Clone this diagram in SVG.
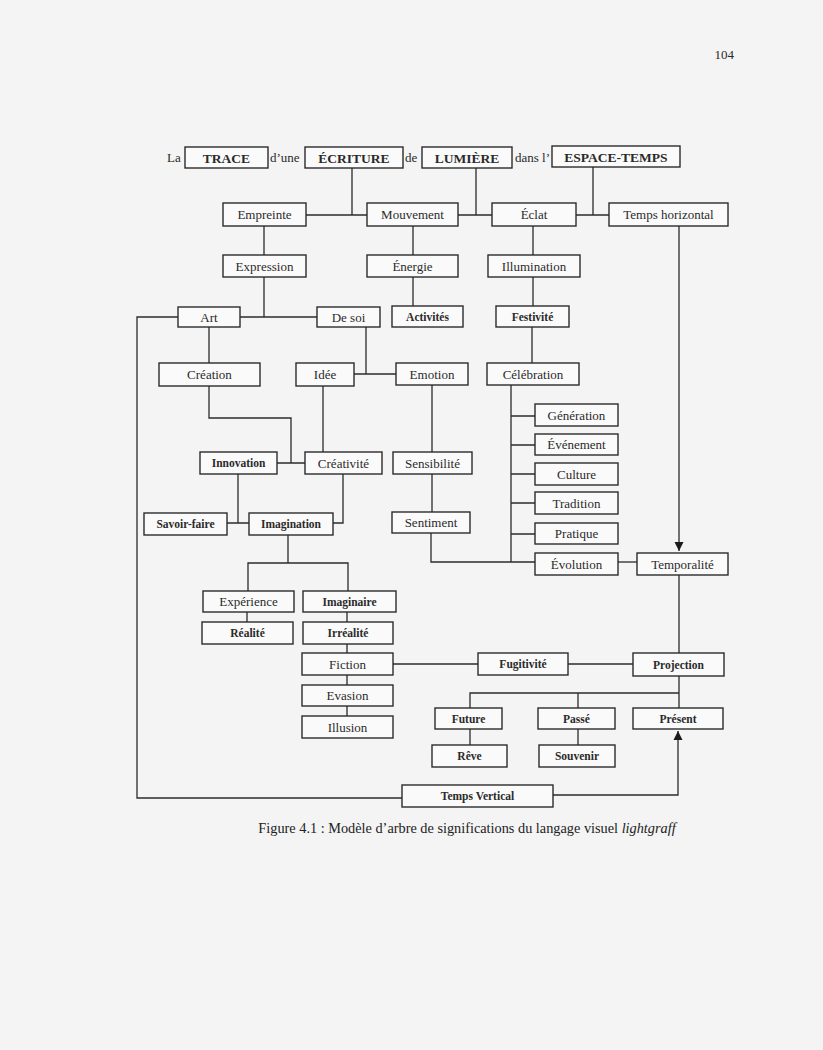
<svg xmlns="http://www.w3.org/2000/svg" width="823" height="1050" viewBox="0 0 823 1050">
<style>
.b{fill:#fafafa;stroke:#2b2b2b;stroke-width:1.4}
.t{font-family:"Liberation Serif","DejaVu Serif",serif;font-size:13px;fill:#2a2a2a;text-anchor:middle}
.s{font-size:11.5px;font-weight:bold}
.h{font-size:13.5px;font-weight:bold}
.w{font-family:"Liberation Serif","DejaVu Serif",serif;font-size:13px;fill:#2a2a2a}
.c{fill:none;stroke:#2b2b2b;stroke-width:1.3}
</style>
<defs>
<marker id="ar" viewBox="0 0 10 10" refX="10" refY="5" markerWidth="7" markerHeight="7" orient="auto"><path d="M0,0 L10,5 L0,10 z" fill="#1a1a1a"/></marker>
</defs>
<rect width="823" height="1050" fill="#f4f4f4"/>
<text x="734" y="59" class="w" style="text-anchor:end">104</text>
<text x="167" y="162" class="w">La</text>
<text x="270" y="162" class="w">d’une</text>
<text x="405" y="162" class="w">de</text>
<text x="515" y="162" class="w">dans l’</text>

<g id="connectors" class="c">
<path d="M352,168V215M306,215H367"/>
<path d="M476,168V215M458,215H492"/>
<path d="M593,167V215M576,215H609"/>
<path d="M264,226V255"/>
<path d="M413,226V255"/>
<path d="M533,226V255"/>
<path d="M679,226V551" marker-end="url(#ar)"/>
<path d="M264,277V317M240,317H317"/>
<path d="M178,317H137V798H402"/>
<path d="M413,277V306"/>
<path d="M533,277V306"/>
<path d="M209,327V363"/>
<path d="M366,327V374M354,374H396"/>
<path d="M532,327V363"/>
<path d="M209,386V418H291V463M277,463H305"/>
<path d="M323,386V452"/>
<path d="M432,385V452"/>
<path d="M238,474V523M227,523H249"/>
<path d="M343,474V523H333"/>
<path d="M432,474V512"/>
<path d="M431,533V562H535"/>
<path d="M511,385V562"/>
<path d="M511,416H535M511,445H535M511,474H535M511,503H535M511,534H535"/>
<path d="M618,562H637"/>
<path d="M288,535V563M248,591V563H348V591"/>
<path d="M247,612V622"/>
<path d="M347,612V622M347,644V653M347,675V685M347,706V716"/>
<path d="M393,664H478M568,664H633"/>
<path d="M679,575V653"/>
<path d="M679,676V708M470,708V693H679M578,693V708"/>
<path d="M470,729V745"/>
<path d="M578,729V745"/>
<path d="M553,795H678V731" marker-end="url(#ar)"/>
</g>

<g id="trace"><rect class="b" x="185" y="147" width="83" height="21"/><text class="t h" x="226.5" y="162.5">TRACE</text></g>
<g id="ecriture"><rect class="b" x="305" y="147" width="98" height="21"/><text class="t h" x="354" y="162.5">ÉCRITURE</text></g>
<g id="lumiere"><rect class="b" x="422" y="147" width="90" height="21"/><text class="t h" x="467" y="162.5">LUMIÈRE</text></g>
<g id="espace-temps"><rect class="b" x="552" y="146" width="128" height="21"/><text class="t h" x="616" y="161.5">ESPACE-TEMPS</text></g>

<g id="empreinte"><rect class="b" x="223" y="203" width="83" height="23"/><text class="t" x="264.5" y="219">Empreinte</text></g>
<g id="mouvement"><rect class="b" x="367" y="203" width="91" height="23"/><text class="t" x="412.5" y="219">Mouvement</text></g>
<g id="eclat"><rect class="b" x="492" y="203" width="84" height="23"/><text class="t" x="534" y="219">Éclat</text></g>
<g id="temps-horizontal"><rect class="b" x="609" y="203" width="119" height="23"/><text class="t" x="668.5" y="219">Temps horizontal</text></g>

<g id="expression"><rect class="b" x="223" y="255" width="83" height="22"/><text class="t" x="264.5" y="270.5">Expression</text></g>
<g id="energie"><rect class="b" x="367" y="255" width="91" height="22"/><text class="t" x="412.5" y="270.5">Énergie</text></g>
<g id="illumination"><rect class="b" x="488" y="255" width="92" height="22"/><text class="t" x="534" y="270.5">Illumination</text></g>

<g id="art"><rect class="b" x="178" y="307" width="62" height="20"/><text class="t" x="209" y="321.5">Art</text></g>
<g id="de-soi"><rect class="b" x="317" y="307" width="63" height="20"/><text class="t" x="348.5" y="321.5">De soi</text></g>
<g id="activites"><rect class="b" x="392" y="306" width="71" height="21"/><text class="t s" x="427.5" y="320.5">Activités</text></g>
<g id="festivite"><rect class="b" x="496" y="306" width="73" height="21"/><text class="t s" x="532.5" y="320.5">Festivité</text></g>

<g id="creation"><rect class="b" x="159" y="363" width="101" height="23"/><text class="t" x="209.5" y="379">Création</text></g>
<g id="idee"><rect class="b" x="296" y="363" width="58" height="23"/><text class="t" x="325" y="379">Idée</text></g>
<g id="emotion"><rect class="b" x="396" y="363" width="72" height="22"/><text class="t" x="432" y="378.5">Emotion</text></g>
<g id="celebration"><rect class="b" x="487" y="363" width="92" height="22"/><text class="t" x="533" y="378.5">Célébration</text></g>

<g id="innovation"><rect class="b" x="200" y="452" width="77" height="22"/><text class="t s" x="238.5" y="467">Innovation</text></g>
<g id="creativite"><rect class="b" x="305" y="452" width="77" height="22"/><text class="t" x="343.5" y="467.5">Créativité</text></g>
<g id="sensibilite"><rect class="b" x="393" y="452" width="79" height="22"/><text class="t" x="432.5" y="467.5">Sensibilité</text></g>

<g id="generation"><rect class="b" x="535" y="404" width="83" height="22"/><text class="t" x="576.5" y="419.5">Génération</text></g>
<g id="evenement"><rect class="b" x="535" y="434" width="83" height="21"/><text class="t" x="576.5" y="449">Événement</text></g>
<g id="culture"><rect class="b" x="535" y="463" width="83" height="22"/><text class="t" x="576.5" y="478.5">Culture</text></g>
<g id="tradition"><rect class="b" x="535" y="492" width="83" height="22"/><text class="t" x="576.5" y="507.5">Tradition</text></g>
<g id="pratique"><rect class="b" x="535" y="523" width="83" height="21"/><text class="t" x="576.5" y="538">Pratique</text></g>
<g id="evolution"><rect class="b" x="535" y="553" width="83" height="22"/><text class="t" x="576.5" y="568.5">Évolution</text></g>
<g id="temporalite"><rect class="b" x="637" y="553" width="91" height="22"/><text class="t" x="682.5" y="568.5">Temporalité</text></g>

<g id="savoir-faire"><rect class="b" x="144" y="513" width="83" height="22"/><text class="t s" x="185.5" y="528">Savoir-faire</text></g>
<g id="imagination"><rect class="b" x="249" y="513" width="84" height="22"/><text class="t s" x="291" y="528">Imagination</text></g>
<g id="sentiment"><rect class="b" x="392" y="512" width="78" height="21"/><text class="t" x="431" y="527">Sentiment</text></g>

<g id="experience"><rect class="b" x="203" y="591" width="91" height="21"/><text class="t" x="248.5" y="606">Expérience</text></g>
<g id="realite"><rect class="b" x="202" y="622" width="91" height="22"/><text class="t s" x="247.5" y="637">Réalité</text></g>
<g id="imaginaire"><rect class="b" x="303" y="591" width="93" height="21"/><text class="t s" x="349.5" y="605.5">Imaginaire</text></g>
<g id="irrealite"><rect class="b" x="303" y="622" width="90" height="22"/><text class="t s" x="348" y="637">Irréalité</text></g>
<g id="fiction"><rect class="b" x="302" y="653" width="91" height="22"/><text class="t" x="347.5" y="668.5">Fiction</text></g>
<g id="evasion"><rect class="b" x="302" y="685" width="91" height="21"/><text class="t" x="347.5" y="700">Evasion</text></g>
<g id="illusion"><rect class="b" x="302" y="716" width="91" height="22"/><text class="t" x="347.5" y="731.5">Illusion</text></g>

<g id="fugitivite"><rect class="b" x="478" y="653" width="90" height="22"/><text class="t s" x="523" y="668">Fugitivité</text></g>
<g id="projection"><rect class="b" x="633" y="653" width="91" height="23"/><text class="t s" x="678.5" y="668.5">Projection</text></g>
<g id="future"><rect class="b" x="435" y="708" width="67" height="21"/><text class="t s" x="468.5" y="722.5">Future</text></g>
<g id="passe"><rect class="b" x="538" y="708" width="77" height="21"/><text class="t s" x="576.5" y="722.5">Passé</text></g>
<g id="present"><rect class="b" x="633" y="708" width="90" height="21"/><text class="t s" x="678" y="722.5">Présent</text></g>
<g id="reve"><rect class="b" x="432" y="745" width="75" height="22"/><text class="t s" x="469.5" y="760">Rêve</text></g>
<g id="souvenir"><rect class="b" x="539" y="745" width="76" height="22"/><text class="t s" x="577" y="760">Souvenir</text></g>
<g id="temps-vertical"><rect class="b" x="402" y="785" width="151" height="22"/><text class="t s" x="477.5" y="800">Temps Vertical</text></g>

<text x="467" y="833" style="font-family:'Liberation Serif',serif;font-size:14.3px;fill:#222;text-anchor:middle">Figure 4.1 : Modèle d’arbre de significations du langage visuel <tspan font-style="italic">lightgraff</tspan></text>
</svg>
